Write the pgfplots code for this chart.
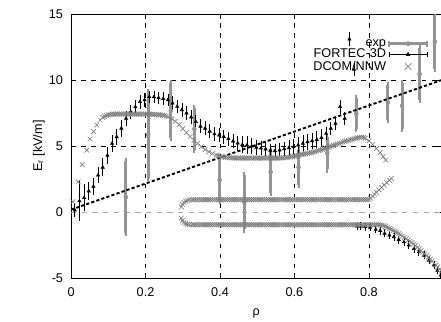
\documentclass[border=0pt]{standalone}
\usepackage{fontspec}
\setmainfont{Liberation Sans}
\usepackage{pgfplots}
\pgfplotsset{compat=1.18}
\usepackage{pgfplotstable}
\definecolor{expgray}{gray}{0.58}
\definecolor{dcomgray}{gray}{0.5}
\newcommand{\fs}{\fontsize{9.5}{11}\selectfont}

\pgfplotstableread{
x y e
0.147 1.14 2.73
0.207 5.85 3.27
0.268 7.68 2.08
0.331 6.30 1.60
0.399 2.45 1.58
0.465 0.75 2.05
0.536 3.05 1.60
0.611 3.40 1.30
0.688 4.47 1.22
0.766 7.45 1.17
0.851 8.30 1.30
0.889 8.05 1.73
0.936 10.45 1.95
0.977 12.90 2.05
}\expdata

\pgfplotstableread{
x y e
0.010 0.15 0.30
0.0225 0.85 1.30
0.035 1.10 0.82
0.0475 1.60 0.45
0.060 1.95 0.42
0.0725 2.80 0.40
0.085 3.40 0.45
0.0975 4.30 0.45
0.110 5.20 0.45
0.1225 5.70 0.40
0.135 6.35 0.40
0.1475 7.10 0.35
0.160 7.60 0.30
0.1725 7.98 0.30
0.185 8.36 0.30
0.1975 8.50 0.30
0.210 8.73 0.25
0.2225 8.73 0.25
0.235 8.66 0.25
0.2475 8.60 0.25
0.260 8.50 0.25
0.2725 8.25 0.30
0.285 8.00 0.30
0.2975 7.75 0.30
0.310 7.50 0.30
0.3225 7.20 0.30
0.335 6.85 0.30
0.3475 6.50 0.30
0.360 6.35 0.30
0.3725 6.12 0.30
0.385 5.92 0.30
0.3975 5.83 0.30
0.410 5.72 0.30
0.4225 5.56 0.30
0.435 5.38 0.30
0.4475 5.23 0.35
0.460 5.12 0.45
0.4725 5.08 0.45
0.485 5.00 0.40
0.4975 4.90 0.35
0.510 4.84 0.30
0.5225 4.78 0.30
0.535 4.68 0.30
0.5475 4.64 0.30
0.560 4.70 0.30
0.5725 4.80 0.30
0.585 4.87 0.35
0.5975 4.95 0.35
0.610 5.08 0.40
0.6225 5.20 0.40
0.635 5.33 0.40
0.6475 5.40 0.40
0.660 5.50 0.40
0.6725 5.65 0.40
0.685 5.96 0.30
0.6975 6.34 0.30
0.710 6.72 0.30
0.7225 7.98 0.30
0.735 7.10 0.25
0.7475 13.10 0.30
0.760 10.80 0.30
0.768 -1.05 0.08
0.778 -1.07 0.08
0.790 -1.10 0.08
0.803 -1.15 0.08
0.818 -1.30 0.08
0.830 -1.40 0.08
0.842 -1.60 0.08
0.855 -1.74 0.08
0.867 -1.87 0.08
0.880 -2.07 0.08
0.894 -2.25 0.08
0.907 -2.50 0.08
0.921 -2.75 0.08
0.934 -3.00 0.08
0.948 -3.26 0.08
0.961 -3.64 0.08
0.975 -4.00 0.08
0.984 -4.40 0.08
0.993 -4.77 0.08
}\fortec

\begin{document}
\begin{tikzpicture}
\begin{axis}[
  scale only axis, width=277.5pt, height=198pt,
  xmin=0, xmax=0.995, ymin=-5, ymax=15,
  xtick={0,0.2,0.4,0.6,0.8}, xticklabels={0,0.2,0.4,0.6,0.8},
  ytick={-5,0,5,10,15}, yticklabels={-5,0,5,10,15},
  extra y ticks={5,10}, extra y tick labels={}, extra y tick style={grid=major},
  xmajorgrids,
  grid style={black, line width=0.45pt, dash pattern=on 3.5pt off 4pt},
  tick align=inside, tick pos=both, major tick length=4pt,
  tick style={black, line width=0.45pt},
  axis line style={black, line width=0.6pt},
  tick label style={font=\fs},
  yticklabel style={xshift=-2.5pt},
  xticklabel style={yshift=-3.5pt},
  xlabel={ρ}, ylabel={E\textsubscript{r} [kV/m]},
  label style={font=\fs},
  xlabel style={at={(axis description cs:0.5,-0.131)}, anchor=center},
  ylabel style={at={(axis description cs:-0.087,0.5)}, anchor=center},
  legend style={at={(axis description cs:0.965,0.913)}, anchor=north east, draw=none, fill=none,
    font=\fs, inner sep=0pt, row sep=-2.25pt, nodes={inner sep=1.5pt}},
  legend cell align=right, legend plot pos=right,
]
\addlegendimage{legend image code/.code={
  \draw[expgray, line width=2.2pt] (0pt,0pt) -- (28pt,0pt);
  \draw[expgray, line width=1.5pt] (0pt,-2.3pt) -- (0pt,2.3pt) (28pt,-2.3pt) -- (28pt,2.3pt);
  \fill[expgray] (14pt,0pt) circle (1.6pt);}}
\addlegendentry{exp}
\addlegendimage{legend image code/.code={
  \draw[black, line width=0.5pt] (0pt,0pt) -- (28pt,0pt);
  \draw[black, line width=0.5pt] (0pt,-2.2pt) -- (0pt,2.2pt) (28pt,-2.2pt) -- (28pt,2.2pt);
  \fill[black] (14pt,1.5pt) -- (12.7pt,-0.75pt) -- (15.3pt,-0.75pt) -- cycle;}}
\addlegendentry{FORTEC-3D}
\addlegendimage{legend image code/.code={
  \draw[dcomgray, line width=0.5pt] (11.5pt,-2.5pt) -- (16.5pt,2.5pt) (11.5pt,2.5pt) -- (16.5pt,-2.5pt);}}
\addlegendentry{DCOM/NNW}

\addplot[forget plot, gray!70, line width=0.5pt, dash pattern=on 4pt off 4pt] coordinates {(0,0)(0.995,0)};

% exp
\addplot[forget plot, only marks, mark=*, mark size=1.5pt, expgray,
  error bars/.cd, y dir=both, y explicit,
  error bar style={line width=2.2pt, expgray},
  error mark options={expgray, line width=1.5pt, mark size=2.4pt}]
  table[x=x, y=y, y error=e]{\expdata};

% FORTEC-3D
\addplot[forget plot, only marks, mark=triangle*, mark size=1.4pt, black,
  error bars/.cd, y dir=both, y explicit,
  error bar style={line width=0.5pt, black},
  error mark options={black, line width=0.5pt, mark size=2.2pt}]
  table[x=x, y=y, y error=e]{\fortec};

% DCOM/NNW upper branch
\addplot[forget plot, only marks, mark=x, mark size=2.5pt, dcomgray, mark options={line width=0.5pt}] coordinates {
(0.005,0.80)(0.019,2.30)(0.030,3.60)(0.042,4.70)(0.051,5.55)(0.060,6.10)(0.069,6.60)(0.078,6.97)(0.085,7.18)(0.090,7.27)
(0.095,7.33)(0.100,7.37)(0.105,7.40)(0.110,7.42)(0.115,7.43)(0.120,7.43)(0.125,7.43)(0.130,7.43)(0.135,7.43)(0.140,7.43)
(0.145,7.43)(0.150,7.43)(0.155,7.43)(0.160,7.43)(0.165,7.43)(0.170,7.43)(0.175,7.43)(0.180,7.43)(0.185,7.43)(0.190,7.43)
(0.195,7.43)(0.200,7.43)(0.205,7.43)(0.210,7.43)(0.215,7.42)(0.220,7.41)(0.225,7.40)(0.230,7.39)(0.235,7.38)(0.240,7.36)
(0.245,7.34)(0.250,7.32)(0.255,7.28)(0.260,7.22)(0.270,7.08)(0.280,6.88)(0.290,6.62)(0.300,6.33)(0.310,6.03)(0.320,5.73)
(0.330,5.45)(0.340,5.20)(0.350,4.96)(0.360,4.75)(0.370,4.58)(0.380,4.44)(0.390,4.33)(0.395,4.28)(0.400,4.24)(0.405,4.21)
(0.410,4.18)(0.415,4.16)(0.420,4.14)(0.425,4.13)(0.430,4.12)(0.435,4.11)(0.440,4.11)(0.445,4.10)(0.450,4.10)(0.455,4.10)
(0.460,4.10)(0.465,4.10)(0.470,4.10)(0.475,4.10)(0.480,4.10)(0.485,4.10)(0.490,4.10)(0.495,4.10)(0.500,4.10)(0.505,4.10)
(0.510,4.10)(0.515,4.10)(0.520,4.10)(0.525,4.10)(0.530,4.10)(0.535,4.10)(0.540,4.10)(0.545,4.10)(0.550,4.10)(0.555,4.10)
(0.560,4.10)(0.565,4.11)(0.570,4.12)(0.575,4.13)(0.580,4.15)(0.585,4.17)(0.590,4.19)(0.595,4.22)(0.600,4.25)(0.605,4.28)
(0.610,4.31)(0.615,4.34)(0.620,4.37)(0.625,4.40)(0.630,4.43)(0.635,4.46)(0.640,4.49)(0.645,4.52)(0.650,4.55)(0.655,4.59)
(0.660,4.63)(0.665,4.67)(0.670,4.71)(0.675,4.76)(0.680,4.81)(0.685,4.86)(0.690,4.91)(0.695,4.96)(0.700,5.01)(0.705,5.06)
(0.710,5.11)(0.715,5.16)(0.720,5.21)(0.725,5.26)(0.730,5.31)(0.735,5.36)(0.740,5.40)(0.745,5.44)(0.750,5.48)(0.755,5.52)
(0.760,5.56)(0.765,5.60)(0.770,5.63)(0.775,5.66)(0.780,5.68)(0.785,5.66)(0.790,5.60)(0.800,5.40)(0.810,5.12)(0.820,4.82)
(0.830,4.50)(0.838,4.22)(0.845,3.95)
};
% DCOM/NNW middle branch
\addplot[forget plot, only marks, mark=x, mark size=2.5pt, dcomgray, mark options={line width=0.5pt}] coordinates {
(0.296,0.40)(0.299,0.60)(0.303,0.74)(0.308,0.84)(0.313,0.90)(0.318,0.93)
(0.325,0.95)(0.330,0.95)(0.335,0.95)(0.340,0.95)(0.345,0.95)(0.350,0.95)(0.355,0.95)(0.360,0.95)(0.365,0.95)(0.370,0.95)
(0.375,0.95)(0.380,0.95)(0.385,0.95)(0.390,0.95)(0.395,0.95)(0.400,0.95)(0.405,0.95)(0.410,0.95)(0.415,0.95)(0.420,0.95)
(0.425,0.95)(0.430,0.95)(0.435,0.95)(0.440,0.95)(0.445,0.95)(0.450,0.95)(0.455,0.95)(0.460,0.95)(0.465,0.95)(0.470,0.95)
(0.475,0.95)(0.480,0.95)(0.485,0.95)(0.490,0.95)(0.495,0.95)(0.500,0.95)(0.505,0.95)(0.510,0.95)(0.515,0.95)(0.520,0.95)
(0.525,0.95)(0.530,0.95)(0.535,0.95)(0.540,0.95)(0.545,0.95)(0.550,0.95)(0.555,0.95)(0.560,0.95)(0.565,0.95)(0.570,0.95)
(0.575,0.95)(0.580,0.95)(0.585,0.95)(0.590,0.95)(0.595,0.95)(0.600,0.95)(0.605,0.95)(0.610,0.95)(0.615,0.95)(0.620,0.95)
(0.625,0.95)(0.630,0.95)(0.635,0.95)(0.640,0.95)(0.645,0.95)(0.650,0.95)(0.655,0.95)(0.660,0.95)(0.665,0.95)(0.670,0.95)
(0.675,0.95)(0.680,0.95)(0.685,0.95)(0.690,0.95)(0.695,0.95)(0.700,0.95)(0.705,0.95)(0.710,0.95)(0.715,0.95)(0.720,0.95)
(0.725,0.95)(0.730,0.95)(0.735,0.95)(0.740,0.95)(0.745,0.95)(0.750,0.95)(0.755,0.95)(0.760,0.95)(0.765,0.95)(0.770,0.95)
(0.775,0.95)(0.780,0.95)(0.785,0.95)(0.790,0.95)(0.795,0.95)(0.800,0.97)
(0.805,1.05)(0.810,1.22)(0.815,1.38)(0.820,1.52)(0.827,1.70)(0.834,1.88)(0.841,2.06)(0.848,2.24)(0.855,2.42)(0.860,2.55)
};
% DCOM/NNW lower branch
\addplot[forget plot, only marks, mark=x, mark size=2.5pt, dcomgray, mark options={line width=0.5pt}] coordinates {
(0.296,-0.45)(0.299,-0.64)(0.303,-0.77)(0.308,-0.86)(0.313,-0.91)(0.318,-0.94)
(0.325,-0.95)(0.330,-0.95)(0.335,-0.95)(0.340,-0.95)(0.345,-0.95)(0.350,-0.95)(0.355,-0.95)(0.360,-0.95)(0.365,-0.95)(0.370,-0.95)
(0.375,-0.95)(0.380,-0.95)(0.385,-0.95)(0.390,-0.95)(0.395,-0.95)(0.400,-0.95)(0.405,-0.95)(0.410,-0.95)(0.415,-0.95)(0.420,-0.95)
(0.425,-0.95)(0.430,-0.95)(0.435,-0.95)(0.440,-0.95)(0.445,-0.95)(0.450,-0.95)(0.455,-0.95)(0.460,-0.95)(0.465,-0.95)(0.470,-0.95)
(0.475,-0.95)(0.480,-0.95)(0.485,-0.95)(0.490,-0.95)(0.495,-0.95)(0.500,-0.95)(0.505,-0.95)(0.510,-0.95)(0.515,-0.95)(0.520,-0.95)
(0.525,-0.95)(0.530,-0.95)(0.535,-0.95)(0.540,-0.95)(0.545,-0.95)(0.550,-0.95)(0.555,-0.95)(0.560,-0.95)(0.565,-0.95)(0.570,-0.95)
(0.575,-0.95)(0.580,-0.95)(0.585,-0.95)(0.590,-0.95)(0.595,-0.95)(0.600,-0.95)(0.605,-0.95)(0.610,-0.95)(0.615,-0.95)(0.620,-0.95)
(0.625,-0.95)(0.630,-0.95)(0.635,-0.95)(0.640,-0.95)(0.645,-0.95)(0.650,-0.95)(0.655,-0.95)(0.660,-0.95)(0.665,-0.95)(0.670,-0.95)
(0.675,-0.95)(0.680,-0.95)(0.685,-0.95)(0.690,-0.95)(0.695,-0.95)(0.700,-0.95)(0.705,-0.95)(0.710,-0.95)(0.715,-0.95)(0.720,-0.95)
(0.725,-0.95)(0.730,-0.95)(0.735,-0.95)(0.740,-0.95)(0.745,-0.95)(0.750,-0.95)(0.755,-0.95)(0.760,-0.95)(0.765,-0.95)(0.770,-0.95)
(0.775,-0.95)(0.780,-0.95)(0.785,-0.95)(0.790,-0.95)(0.795,-0.95)(0.800,-0.95)(0.805,-0.95)(0.810,-0.95)(0.815,-0.95)(0.820,-0.95)
(0.825,-0.95)(0.830,-0.96)(0.835,-0.98)(0.840,-1.02)(0.845,-1.08)(0.850,-1.15)(0.855,-1.22)(0.860,-1.30)(0.865,-1.38)(0.870,-1.46)
(0.875,-1.54)(0.880,-1.62)(0.885,-1.71)(0.890,-1.80)(0.895,-1.90)(0.900,-2.00)(0.905,-2.10)(0.910,-2.20)(0.915,-2.30)(0.920,-2.41)
(0.925,-2.53)(0.930,-2.65)(0.935,-2.77)(0.940,-2.90)(0.945,-3.02)(0.950,-3.15)(0.955,-3.27)(0.960,-3.40)(0.965,-3.55)(0.970,-3.70)
(0.975,-3.85)(0.980,-4.00)(0.985,-4.15)(0.990,-4.30)(0.995,-4.45)
};

% dashed reference line
\addplot[forget plot, black, line width=1.4pt, dash pattern=on 2.4pt off 1.6pt] coordinates {(0,0.2)(0.995,10.0)};

\coordinate (bl) at (rel axis cs:0,0);
\coordinate (tr) at (rel axis cs:1,1);
\end{axis}
\pgfresetboundingbox
\path ([shift={(-53.25pt,-32.25pt)}]bl) rectangle ([shift={(-0.4pt,10.5pt)}]tr);
\end{tikzpicture}
\end{document}
